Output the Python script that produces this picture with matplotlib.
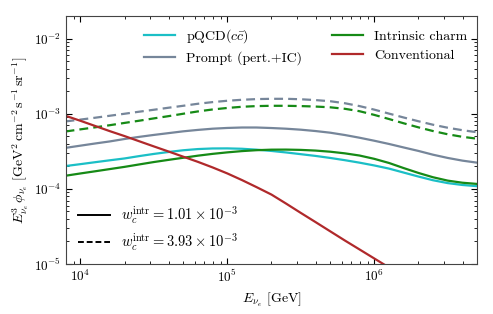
import numpy as np
import matplotlib
matplotlib.use("Agg")
import matplotlib.pyplot as plt
from matplotlib.lines import Line2D

plt.rcParams['font.family'] = 'serif'
plt.rcParams['font.serif'] = ['cmr10', 'DejaVu Serif']
plt.rcParams['mathtext.fontset'] = 'cm'
plt.rcParams['axes.formatter.use_mathtext'] = True
plt.rcParams['axes.unicode_minus'] = False

# Neutrino energy [GeV]
energy = [7.94e3, 1.0e4, 1.26e4, 1.58e4, 2.0e4, 2.51e4, 3.16e4, 3.98e4, 5.01e4,
          6.31e4, 7.94e4, 1.0e5, 1.26e5, 1.58e5, 2.0e5, 2.51e5, 3.16e5, 3.98e5,
          5.01e5, 6.31e5, 7.94e5, 1.0e6, 1.26e6, 1.58e6, 2.0e6, 2.51e6, 3.16e6,
          3.98e6, 5.01e6]

# log10 of E^3 phi [GeV^2 cm^-2 s^-1 sr^-1]
log_pqcd = [-3.696, -3.671, -3.645, -3.620, -3.595, -3.564, -3.535, -3.509,
            -3.486, -3.470, -3.462, -3.461, -3.466, -3.478, -3.495, -3.515,
            -3.538, -3.561, -3.588, -3.618, -3.651, -3.688, -3.730, -3.782,
            -3.836, -3.885, -3.923, -3.948, -3.964]
log_ic_low = [-3.825, -3.795, -3.766, -3.737, -3.707, -3.675, -3.643, -3.614,
              -3.586, -3.558, -3.534, -3.514, -3.497, -3.485, -3.478, -3.477,
              -3.481, -3.490, -3.505, -3.527, -3.556, -3.600, -3.655, -3.722,
              -3.788, -3.845, -3.890, -3.918, -3.934]
log_ic_high = [-3.236, -3.208, -3.181, -3.153, -3.122, -3.093, -3.062, -3.032,
               -3.000, -2.969, -2.943, -2.923, -2.907, -2.898, -2.894, -2.894,
               -2.898, -2.904, -2.914, -2.934, -2.966, -3.015, -3.070, -3.126,
               -3.181, -3.230, -3.273, -3.307, -3.332]
log_prompt_low = [-3.454, -3.425, -3.396, -3.369, -3.336, -3.308, -3.282, -3.258,
                  -3.234, -3.215, -3.199, -3.189, -3.183, -3.183, -3.190, -3.199,
                  -3.212, -3.230, -3.252, -3.283, -3.319, -3.359, -3.402, -3.448,
                  -3.495, -3.545, -3.588, -3.624, -3.651]
log_prompt_high = [-3.102, -3.078, -3.053, -3.027, -3.000, -2.973, -2.947, -2.920,
                   -2.894, -2.867, -2.845, -2.827, -2.814, -2.805, -2.801, -2.801,
                   -2.807, -2.818, -2.833, -2.860, -2.898, -2.945, -2.998, -3.049,
                   -3.100, -3.146, -3.186, -3.219, -3.246]
log_conv = [-3.027, -3.093, -3.162, -3.230, -3.297, -3.365, -3.434, -3.502,
            -3.571, -3.640, -3.714, -3.794, -3.883, -3.976, -4.076, -4.195,
            -4.319, -4.441, -4.564, -4.687, -4.806, -4.926, -5.046, -5.165]

labels = [r'pQCD$(c\bar{c})$', 'Prompt (pert.+IC)', 'Intrinsic charm', 'Conventional']
wc_labels = [r'$w_c^{\rm intr} = 1.01\times10^{-3}$', r'$w_c^{\rm intr} = 3.93\times10^{-3}$']

c_cyan = '#1bbfc6'
c_grey = '#76869a'
c_green = '#168a16'
c_red = '#b0292b'

fig = plt.figure(figsize=(4.93, 3.14), dpi=100)
ax = fig.add_axes([0.1339, 0.1592, 0.8336, 0.7898])

E = np.array(energy)
lw = 1.6
dash = (0, (4, 2.3))
ax.plot(E, 10**np.array(log_pqcd), color=c_cyan, lw=lw)
ax.plot(E, 10**np.array(log_prompt_low), color=c_grey, lw=lw)
ax.plot(E, 10**np.array(log_prompt_high), color=c_grey, lw=lw, ls=dash)
ax.plot(E, 10**np.array(log_ic_low), color=c_green, lw=lw)
ax.plot(E, 10**np.array(log_ic_high), color=c_green, lw=lw, ls=dash)
ax.plot(E[:len(log_conv)], 10**np.array(log_conv), color=c_red, lw=lw)

ax.set_xscale('log')
ax.set_yscale('log')
ax.set_xlim(8e3, 5e6)
ax.set_ylim(1e-5, 2e-2)

ax.set_xlabel(r'$E_{\nu_e}$ [GeV]', fontsize=10)
ax.set_ylabel(r'$E^3_{\nu_e}\,\phi_{\nu_e}\ [\mathrm{GeV}^2\,\mathrm{cm}^{-2}\,\mathrm{s}^{-1}\,\mathrm{sr}^{-1}]$',
              fontsize=10, labelpad=2)

ax.tick_params(which='both', direction='in', top=True, right=True, labelsize=9.5)
ax.tick_params(which='major', length=4)
ax.tick_params(which='minor', length=2)
for s in ax.spines.values():
    s.set_color('#444444')
    s.set_linewidth(0.8)

h1 = [Line2D([], [], color=c_cyan, lw=lw), Line2D([], [], color=c_grey, lw=lw),
      Line2D([], [], color=c_green, lw=lw), Line2D([], [], color=c_red, lw=lw)]
leg1 = ax.legend(h1, labels, ncol=2, loc='upper left', bbox_to_anchor=(0.19, 0.955),
                 frameon=False, fontsize=10, handlelength=2.25, handletextpad=0.8,
                 columnspacing=2.1, labelspacing=0.45, borderpad=0, borderaxespad=0)
ax.add_artist(leg1)

h2 = [Line2D([], [], color='black', lw=1.4),
      Line2D([], [], color='black', lw=1.4, ls=(0, (3, 1.5)))]
ax.legend(h2, wc_labels, loc='lower left', bbox_to_anchor=(0.029, 0.043), frameon=False,
          fontsize=10.5, handlelength=2.2, handletextpad=0.75, labelspacing=0.4,
          borderpad=0, borderaxespad=0)

fig.savefig('out.png', dpi=100)
